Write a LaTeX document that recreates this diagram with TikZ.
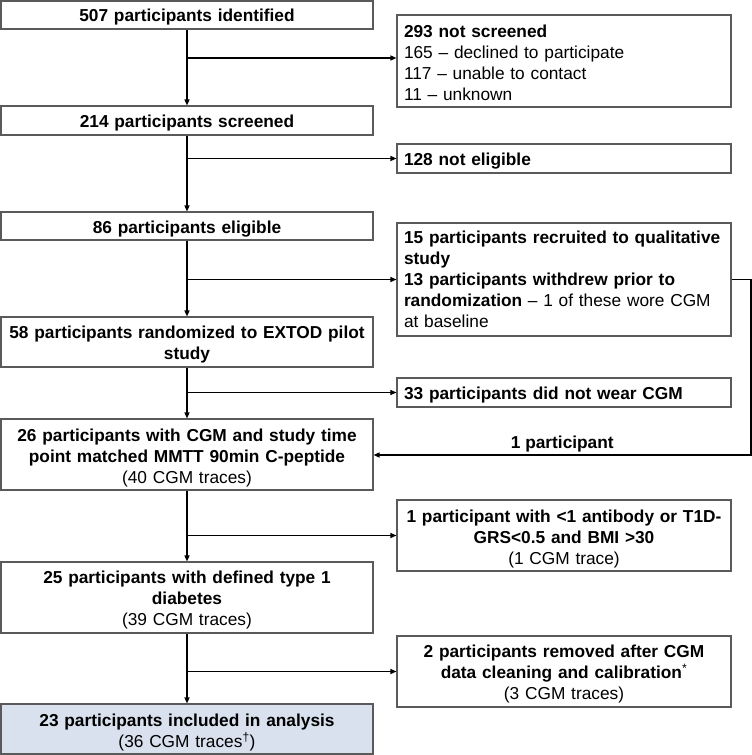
\documentclass[tikz,border=0pt]{standalone}
\usepackage{fontspec}
\setmainfont{Liberation Sans}
\usetikzlibrary{arrows.meta}
\definecolor{boxgray}{HTML}{5A5A5A}
\definecolor{boxfill}{HTML}{DAE1EE}
\newcommand\fsz{\fontsize{17.3}{21}\selectfont}
\begin{document}
\begin{tikzpicture}[x=1pt,y=-1pt,
  lbox/.style={draw=boxgray, line width=1.1pt, fill=white, minimum width=372pt, inner sep=0pt},
  rbox/.style={draw=boxgray, line width=1.1pt, fill=white, minimum width=334pt, inner sep=0pt},
  ltxt/.style={text width=360pt, inner sep=0pt, align=center, font=\fsz},
  rtxt/.style={text width=320pt, inner sep=0pt, align=left, font=\fsz},
  rctxt/.style={rtxt, align=center},
  arr/.style={-{Triangle[length=6pt,width=5pt]}, line width=1.3pt, black},
  thinarr/.style={-{Triangle[length=6pt,width=5pt]}, line width=0.8pt, black}]
\useasboundingbox (0,0) rectangle (752,755);
% left column boxes
\node[lbox, minimum height=28pt] (b1) at (187,15) {};
\node[lbox, minimum height=29pt] (b2) at (187,120.5) {};
\node[lbox, minimum height=28pt] (b3) at (187,226) {};
\node[lbox, minimum height=50pt] (b4) at (187,342) {};
\node[lbox, minimum height=71pt] (b5) at (187,454.5) {};
\node[lbox, minimum height=71pt] (b6) at (187,597.5) {};
\node[lbox, minimum height=50pt, fill=boxfill] (b7) at (187,729) {};
% left column texts
\node[ltxt] (b1t) at ([yshift=-2.5pt]b1.center) {\textbf{507 participants identified}};
\node[ltxt] (b2t) at ([yshift=-3pt]b2.center) {\textbf{214 participants screened}};
\node[ltxt] (b3t) at ([yshift=-3pt]b3.center) {\textbf{86 participants eligible}};
\node[ltxt] (b4t) at ([yshift=-3pt]b4.center) {\textbf{58 participants randomized to EXTOD pilot}\\\textbf{study}};
\node[ltxt] (b5t) at ([yshift=-3.5pt]b5.center) {\textbf{26 participants with CGM and study time}\\\textbf{point matched MMTT 90min C-peptide}\\(40 CGM traces)};
\node[ltxt] (b6t) at ([yshift=-2.5pt]b6.center) {\textbf{25 participants with defined type 1}\\\textbf{diabetes}\\(39 CGM traces)};
\node[ltxt] (b7t) at ([yshift=-3.5pt]b7.center) {\textbf{23 participants included in analysis}\\(36 CGM traces\textsuperscript{†})};
% right column boxes
\node[rbox, minimum height=92pt] (r1) at (564,61) {};
\node[rbox, minimum height=29pt] (r2) at (564,158.5) {};
\node[rbox, minimum height=113pt] (r3) at (564,279.5) {};
\node[rbox, minimum height=29pt] (r4) at (564,392.5) {};
\node[rbox, minimum height=71pt] (r5) at (564,535.5) {};
\node[rbox, minimum height=71pt] (r6) at (564,671.5) {};
% right column texts
\node[rtxt] (r1t) at ([yshift=-1.5pt]r1.center) {\textbf{293 not screened}\\165 – declined to participate\\117 – unable to contact\\11 – unknown};
\node[rtxt] (r2t) at ([yshift=-3pt]r2.center) {\textbf{128 not eligible}};
\node[rtxt] (r3t) at (r3.center) {\textbf{15 participants recruited to qualitative}\\\textbf{study}\\\textbf{13 participants withdrew prior to}\\\textbf{randomization} – 1 of these wore CGM\\at baseline};
\node[rtxt] (r4t) at ([yshift=-3pt]r4.center) {\textbf{33 participants did not wear CGM}};
\node[rctxt] (r5t) at ([yshift=-3.5pt]r5.center) {\textbf{1 participant with <1 antibody or T1D-}\\\textbf{GRS<0.5 and BMI >30}\\(1 CGM trace)};
\node[rctxt] (r6t) at ([yshift=-2.5pt]r6.center) {\textbf{2 participants removed after CGM}\\\textbf{data cleaning and calibration}\textsuperscript{*}\\(3 CGM traces)};
% trunk
\draw[arr] (b1.south) -- (b2.north);
\draw[arr] (b2.south) -- (b3.north);
\draw[arr] (b3.south) -- (b4.north);
\draw[arr] (b4.south) -- (b5.north);
\draw[arr] (b5.south) -- (b6.north);
\draw[arr] (b6.south) -- (b7.north);
% branches
\coordinate (j1) at (187,58);
\draw[arr] (j1) -- (j1 -| r1.west);
\draw[arr] (b2.south |- r2.west) -- (r2.west);
\draw[arr] (b3.south |- r3.west) -- (r3.west);
\draw[thinarr] (b4.south |- r4.west) -- (r4.west);
\draw[arr] (b5.south |- r5.west) -- (r5.west);
\draw[arr] (b6.south |- r6.west) -- (r6.west);
% feedback
\coordinate (fb) at (751,455);
\draw[arr] (r3.east) -| (fb) -- (fb -| b5.east) node[pos=0.5, above=-1.5pt, font=\fsz\bfseries] (lab) {1 participant};
\end{tikzpicture}
\end{document}
